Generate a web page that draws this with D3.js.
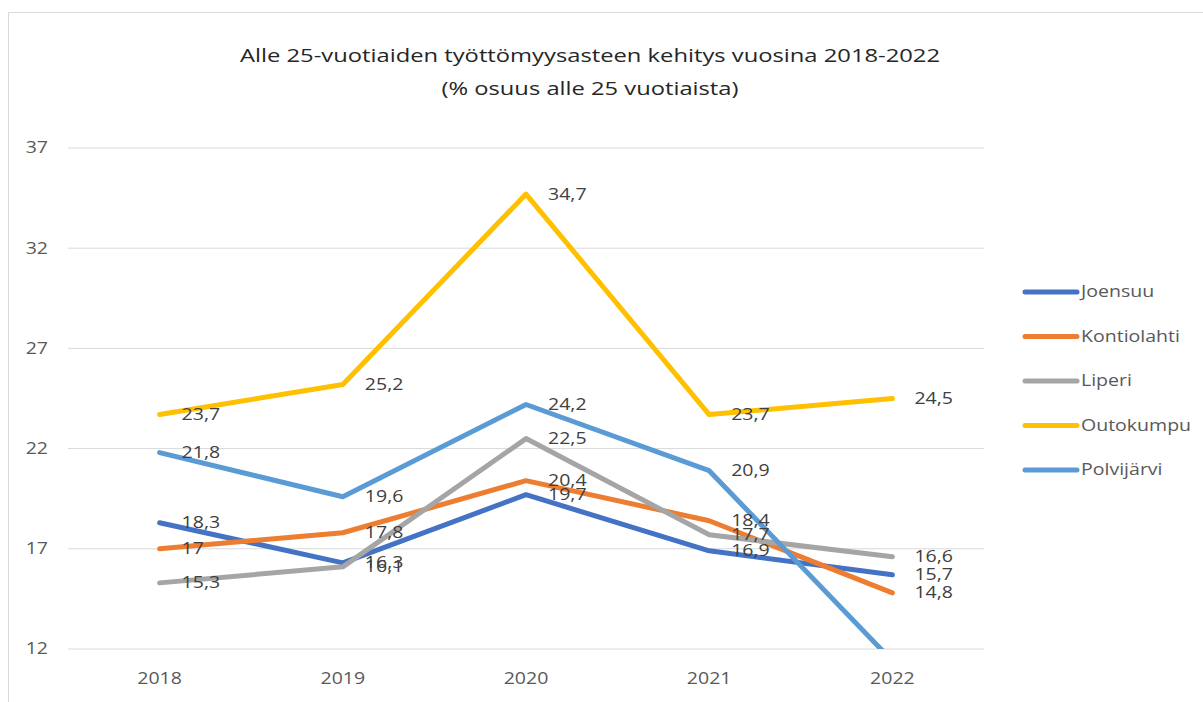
<!DOCTYPE html>
<html>
<head>
<meta charset="utf-8">
<script src="https://cdn.jsdelivr.net/npm/d3@7"></script>
<style>
  body { margin: 0; background: #fff; }
  text { font-family: "Open Sans", "DejaVu Sans", sans-serif; }
</style>
</head>
<body>
<script>
// data
const years = ["2018", "2019", "2020", "2021", "2022"];
const joensuu = [18.3, 16.3, 19.7, 16.9, 15.7];
const kontiolahti = [17, 17.8, 20.4, 18.4, 14.8];
const liperi = [15.3, 16.1, 22.5, 17.7, 16.6];
const outokumpu = [23.7, 25.2, 34.7, 23.7, 24.5];
const polvijarvi = [21.8, 19.6, 24.2, 20.9, 11.4];
const yTicks = [12, 17, 22, 27, 32, 37];

const series = [
  { name: "Joensuu", values: joensuu, color: "#4472C4" },
  { name: "Kontiolahti", values: kontiolahti, color: "#ED7D31" },
  { name: "Liperi", values: liperi, color: "#A5A5A5" },
  { name: "Outokumpu", values: outokumpu, color: "#FFC000" },
  { name: "Polvijärvi", values: polvijarvi, color: "#5B9BD5" }
];

const WIDTH = 1203;
const HEIGHT = 702;
const SX = 1.26; // the original picture is a bit wide, so text is stretched sideways

const svg = d3.select("body")
  .append("svg")
  .attr("width", WIDTH)
  .attr("height", HEIGHT);

// place a text at (x, y) stretched horizontally
function place(sel, fx, fy) {
  sel.attr("transform", (d, i) => `translate(${fx(d, i)},${fy(d, i)}) scale(${SX},1)`);
}

// chart frame
svg.append("rect")
  .attr("x", 8.5).attr("y", 12.5)
  .attr("width", 1200).attr("height", 700)
  .attr("fill", "none")
  .attr("stroke", "#d9d9d9");

// title
const titleLines = ["Alle 25-vuotiaiden työttömyysasteen kehitys vuosina 2018-2022", "(% osuus alle 25 vuotiaista)"];
const titleWidths = [700, 297];
svg.append("g")
  .selectAll("text")
  .data(titleLines)
  .join("text")
  .attr("x", 590)
  .attr("y", (d, i) => 62 + i * 33)
  .attr("text-anchor", "middle")
  .attr("fill", "#262626")
  .attr("textLength", (d, i) => titleWidths[i])
  .attr("lengthAdjust", "spacingAndGlyphs")
  .style("font-size", "19px")
  .text(d => d);

const plotLeft = 68, plotRight = 984, plotTop = 148, plotBottom = 649;

const x = d3.scalePoint()
  .domain(years)
  .range([plotLeft, plotRight])
  .padding(0.5);

const y = d3.scaleLinear()
  .domain([12, 37])
  .range([plotBottom, plotTop]);

// gridlines
svg.append("g")
  .selectAll("line")
  .data(yTicks)
  .join("line")
  .attr("x1", plotLeft).attr("x2", plotRight)
  .attr("y1", d => y(d)).attr("y2", d => y(d))
  .attr("stroke", "#d9d9d9")
  .attr("stroke-width", 1);

// y tick labels
svg.append("g")
  .selectAll("text")
  .data(yTicks)
  .join("text")
  .call(place, () => 48, d => y(d))
  .attr("dy", "0.35em")
  .attr("text-anchor", "end")
  .attr("fill", "#595959")
  .style("font-size", "15.5px")
  .text(d => d);

// x tick labels
svg.append("g")
  .selectAll("text")
  .data(years)
  .join("text")
  .call(place, d => x(d), () => 679)
  .attr("dy", "0.35em")
  .attr("text-anchor", "middle")
  .attr("fill", "#595959")
  .style("font-size", "15.5px")
  .text(d => d);

// clip to plot area
svg.append("clipPath")
  .attr("id", "plotclip")
  .append("rect")
  .attr("x", 0).attr("y", plotTop - 20)
  .attr("width", WIDTH).attr("height", plotBottom - plotTop + 20);

const line = d3.line()
  .x((d, i) => x(years[i]))
  .y(d => y(d));

svg.append("g")
  .attr("clip-path", "url(#plotclip)")
  .selectAll("path")
  .data(series)
  .join("path")
  .attr("d", d => line(d.values))
  .attr("fill", "none")
  .attr("stroke", d => d.color)
  .attr("stroke-width", 5)
  .attr("stroke-linecap", "round")
  .attr("stroke-linejoin", "round");

// data labels (the one below the axis is hidden, like in the original)
const labels = [];
series.forEach(s => {
  s.values.forEach((v, i) => {
    if (v >= 12) labels.push({ v: v, year: years[i] });
  });
});

svg.append("g")
  .selectAll("text")
  .data(labels)
  .join("text")
  .call(place, d => x(d.year) + 22, d => y(d.v))
  .attr("dy", "0.35em")
  .attr("fill", "#404040")
  .style("font-size", "15.5px")
  .text(d => String(d.v).replace(".", ","));

// legend
const legend = svg.append("g")
  .selectAll("g")
  .data(series)
  .join("g")
  .attr("transform", (d, i) => `translate(1025, ${292 + i * 44.5})`);

legend.append("line")
  .attr("x1", 0).attr("x2", 52)
  .attr("stroke", d => d.color)
  .attr("stroke-width", 5)
  .attr("stroke-linecap", "round");

legend.append("text")
  .call(place, () => 56, () => 0)
  .attr("dy", "0.35em")
  .attr("fill", "#595959")
  .style("font-size", "15.5px")
  .text(d => d.name);
</script>
</body>
</html>
